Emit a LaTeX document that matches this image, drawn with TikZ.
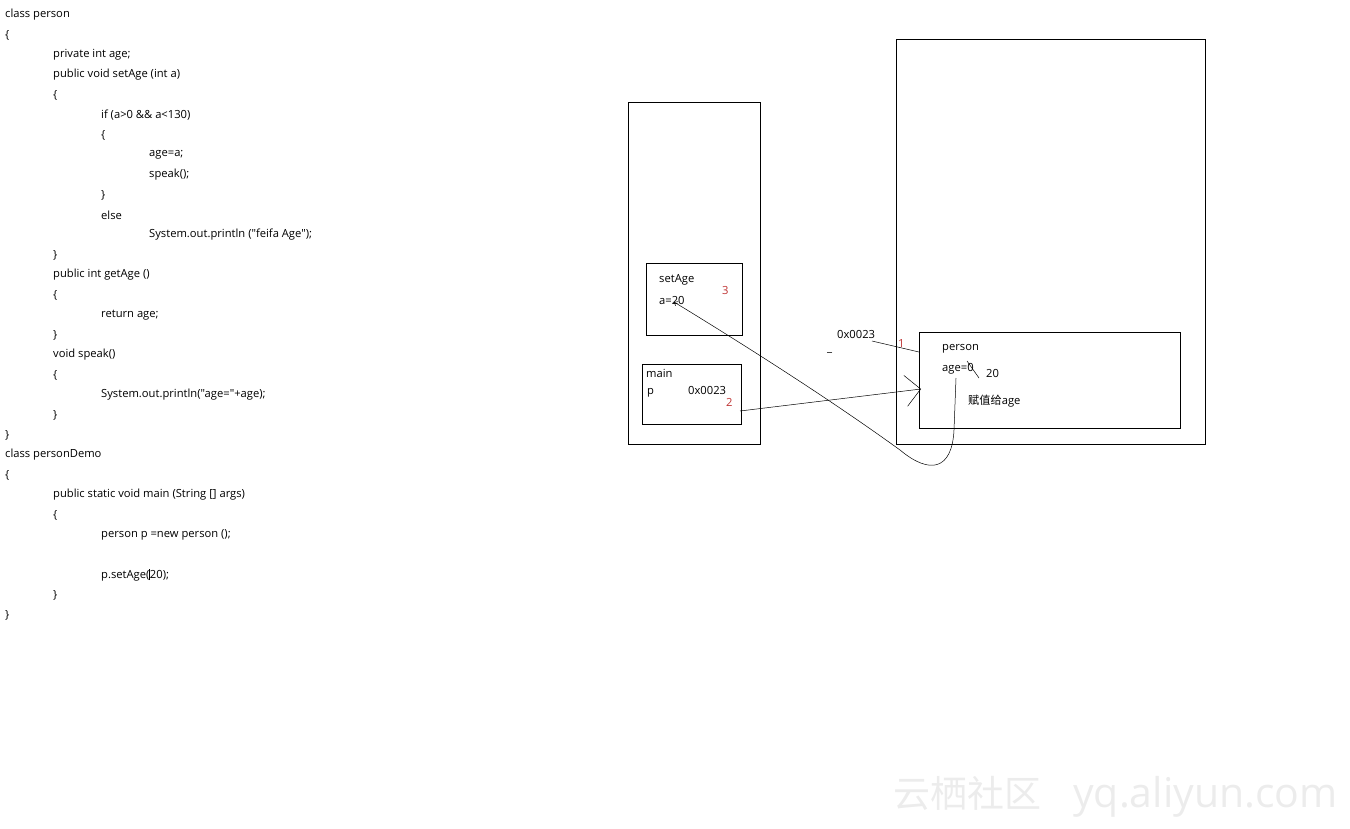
\documentclass[tikz,border=0pt]{standalone}
\usepackage{fontspec}
\setmainfont{Open Sans}[Ligatures=TeXOff]
\newfontfamily\cjk{Noto Sans CJK SC}
\usetikzlibrary{arrows.meta,positioning}

\definecolor{markred}{RGB}{190,50,50}
\definecolor{watermark}{RGB}{236,236,236}

\begin{document}
\begin{tikzpicture}[x=1pt,y=-1pt,
  code/.style={anchor=west, inner sep=0pt, font=\fontsize{11.2}{13}\selectfont},
  redmark/.style={code, text=markred},
  frame/.style={draw, line width=0.6pt, inner sep=0pt, anchor=north west},
  link/.style={line width=0.5pt}]

% Canvas of the screenshot (1350 x 828 px, 1px = 1pt, y grows downwards)
\useasboundingbox (0,0) rectangle (1350,828);

% --- Source code on the left ---
% indent level / text, one line every 20px
\foreach \ind/\txt [count=\i] in {
    0/{class person},
    0/{\{},
    1/{private int age;},
    1/{public void setAge (int a)},
    1/{\{},
    2/{if (a>0 \&\& a<130)},
    2/{\{},
    3/{age=a;},
    3/{speak();},
    2/{\}},
    2/{else},
    3/{System.out.println ("feifa Age");},
    1/{\}},
    1/{public int getAge ()},
    1/{\{},
    2/{return age;},
    1/{\}},
    1/{void speak()},
    1/{\{},
    2/{System.out.println("age="+age);},
    1/{\}},
    0/{\}},
    0/{class personDemo},
    0/{\{},
    1/{public static void main (String [] args)},
    1/{\{},
    2/{person p =new person ();},
    2/{},
    2/{p.setAge(\rule[-2pt]{0.5pt}{11pt}20);},
    1/{\}},
    0/{\}}} {
  \node[code] (code\i) at ({5+48*\ind}, {15+20*(\i-1)}) {\txt};
}

% --- Stack ---
\node[frame, minimum width=132, minimum height=342] (stack) at (628,102) {};
\node[frame, minimum width=96, minimum height=72] (setAgeFrame) at (646,263) {};
\node[frame, minimum width=99, minimum height=60] (mainFrame) at (642,364) {};

\node[code] (setAgeName) at (659,280) {setAge};
\node[code] (aVal) at (659,300) {a=20};
\node[redmark] (stepThree) at (722,290) {3};

\node[code] (mainName) at (646,373) {main};
\node[code] (pVar) at (647,393) {p};
\node[code] (pAddr) at (688,390) {0x0023};
\node[redmark] (stepTwo) at (726,402) {2};

% --- Heap ---
\node[frame, minimum width=309, minimum height=405] (heap) at (896,39) {};
\node[frame, minimum width=261, minimum height=96] (personObj) at (919,332) {};

\node[code] (personName) at (942,349) {person};
\node[code] (ageVal) at (942,369) {age=0};
\node[code] (newVal) at (986,373) {20};
\node[code] (assignNote) at (968,401) {{\cjk 赋值给}age};

\node[code] (heapAddr) at (837,334) {0x0023};
\node[redmark] (stepOne) at (898,343) {1};
\node[code] (strayMark) at (827,352) {\_};

% strike through the old value 0
\draw[link] (967,361) -- (979,378);

% --- Connectors ---
\coordinate (addrOut) at (872,341);
\coordinate (addrIn)  at (919,352);
\coordinate (refOut)  at (740,411);
\coordinate (refIn)   at (921,389);
\coordinate (ageOut)  at (956,378);
\coordinate (aIn)     at (674,302);

% address of the new object
\draw[link] (addrOut) -- (addrIn);

% p refers to the object
\draw[link, -{Straight Barb[length=15pt,width=31pt,line width=0.5pt]}] (refOut) -- (refIn);

% a=20 is given to age
\draw[link, -{Straight Barb[length=3pt,width=5pt]}]
  (ageOut) -- (954,430) .. controls (952,470) and (930,475) .. (900,450)
  .. controls (820,392) and (720,330) .. (aIn);

% --- Watermark ---
\node[anchor=west, inner sep=0pt, text=watermark, font=\fontsize{37}{42}\selectfont]
  (siteMark) at (893,797) {{\cjk 云栖社区}\hspace{32pt}{\fontsize{41}{42}\selectfont yq.aliyun.com}};

\end{tikzpicture}
\end{document}
